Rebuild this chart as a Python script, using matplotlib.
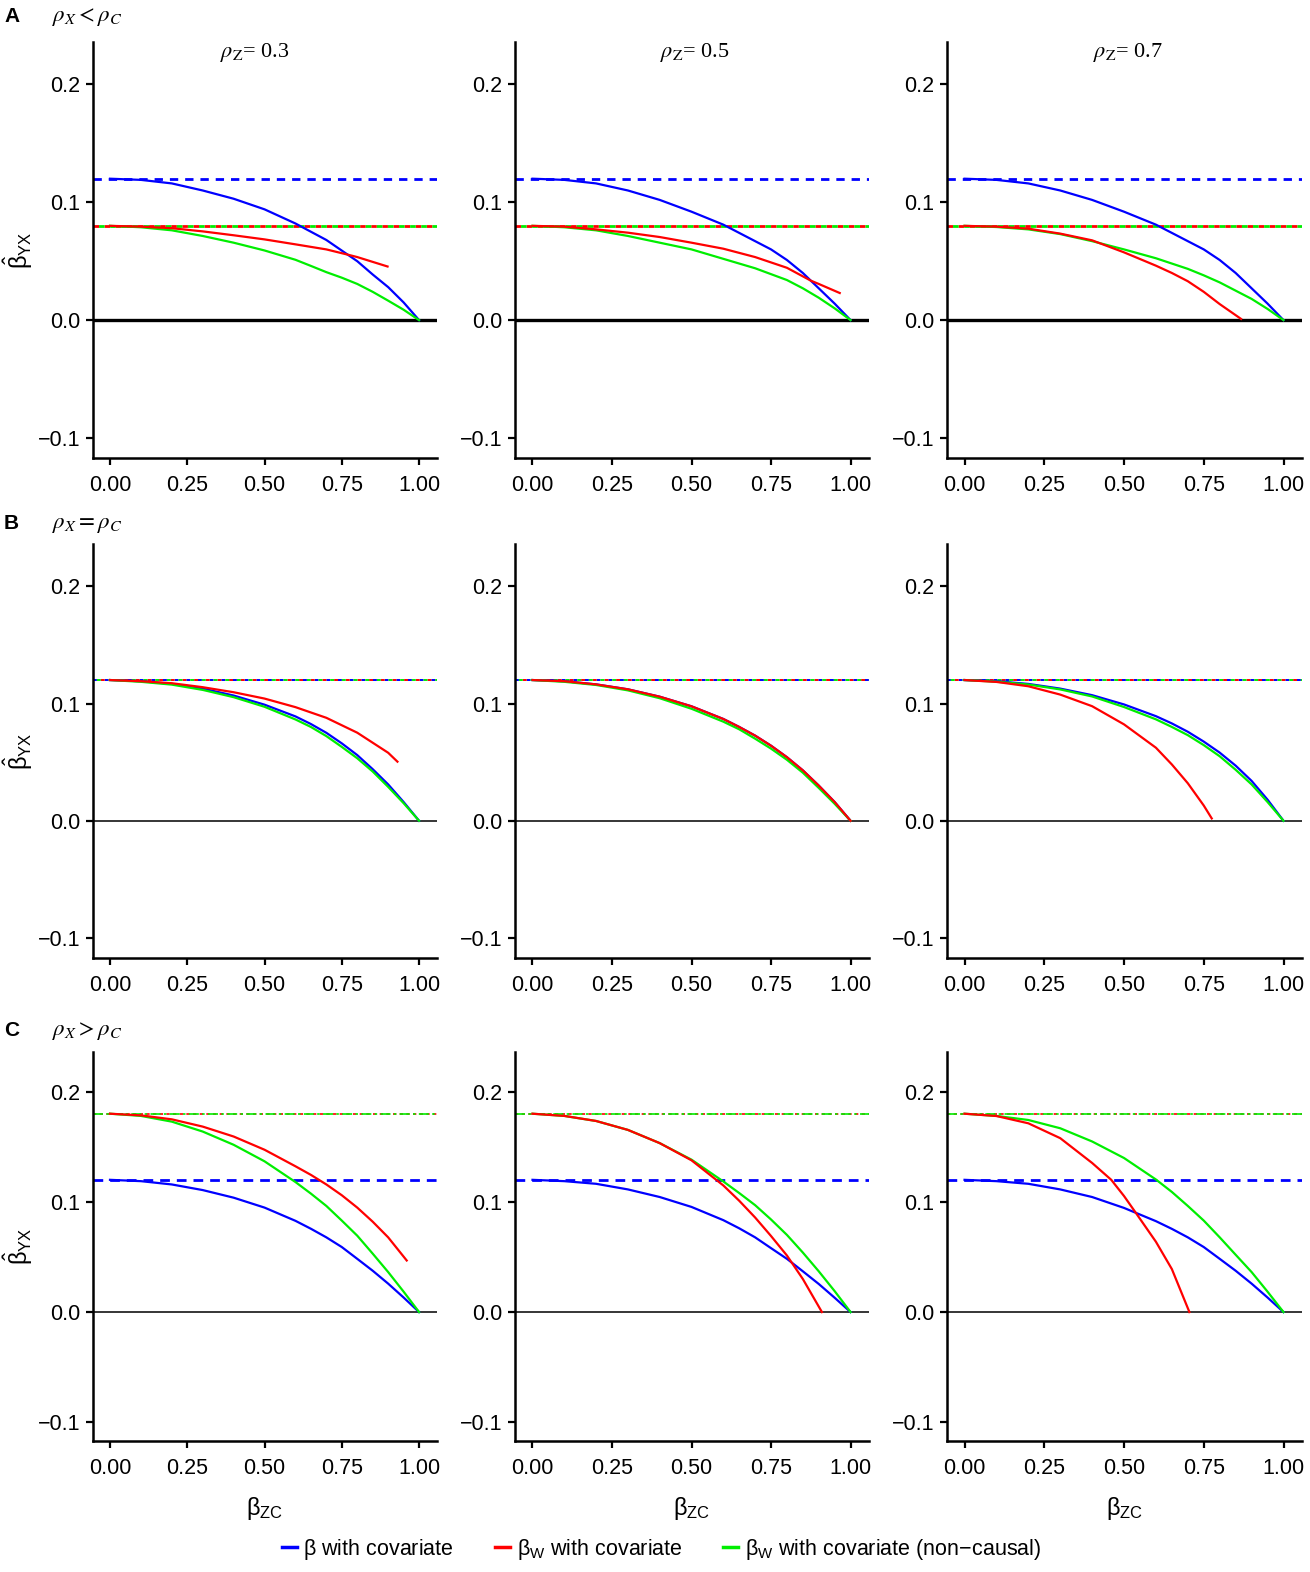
import matplotlib
matplotlib.use("Agg")
from matplotlib import pyplot as plt
from matplotlib.lines import Line2D

plt.rcParams['font.family'] = ['Liberation Sans', 'DejaVu Sans']
plt.rcParams['mathtext.fontset'] = 'custom'
plt.rcParams['mathtext.rm'] = 'Liberation Sans'
plt.rcParams['mathtext.it'] = 'Liberation Sans:italic'
plt.rcParams['mathtext.bf'] = 'Liberation Sans:bold'

# x grid (beta_ZC) shared by the blue and green curves
bzc = [0.0, 0.1, 0.2, 0.3, 0.4, 0.5, 0.6, 0.65, 0.7, 0.75, 0.8, 0.85, 0.9, 0.95, 1.0]

row_letters = ['A', 'B', 'C']
row_conds = [r'$\rho_X < \rho_C$', r'$\rho_X = \rho_C$', r'$\rho_X > \rho_C$']
col_titles = [r'$\rho_{\mathrm{Z}}$= 0.3', r'$\rho_{\mathrm{Z}}$= 0.5', r'$\rho_{\mathrm{Z}}$= 0.7']

# horizontal reference lines (without covariate), per row
ref_blue = [0.12, 0.12, 0.12]
ref_red = [0.08, 0.12, 0.18]
ref_green = [0.08, 0.12, 0.18]

# beta with covariate (blue), [row][col]
blue = [
    [[0.12, 0.119, 0.116, 0.110, 0.103, 0.094, 0.082, 0.075, 0.068, 0.059, 0.050, 0.0387, 0.028, 0.015, 0.0],
     [0.12, 0.119, 0.116, 0.110, 0.102, 0.092, 0.081, 0.074, 0.067, 0.060, 0.051, 0.040, 0.027, 0.014, 0.0],
     [0.12, 0.119, 0.116, 0.110, 0.102, 0.092, 0.081, 0.074, 0.067, 0.060, 0.051, 0.040, 0.027, 0.014, 0.0]],
    [[0.12, 0.119, 0.1167, 0.1127, 0.1068, 0.099, 0.089, 0.0825, 0.075, 0.066, 0.056, 0.044, 0.031, 0.016, 0.0],
     [0.12, 0.119, 0.1163, 0.1121, 0.1058, 0.0976, 0.0868, 0.080, 0.0726, 0.064, 0.0542, 0.043, 0.030, 0.016, 0.0],
     [0.12, 0.119, 0.1167, 0.1127, 0.1071, 0.0992, 0.0892, 0.083, 0.0759, 0.0675, 0.0581, 0.047, 0.034, 0.018, 0.0]],
    [[0.12, 0.1188, 0.1158, 0.1107, 0.1038, 0.0948, 0.0828, 0.0756, 0.0678, 0.059, 0.0483, 0.0375, 0.0258, 0.0132, 0.0],
     [0.12, 0.1188, 0.1164, 0.1113, 0.1044, 0.0954, 0.0834, 0.076, 0.0678, 0.058, 0.0483, 0.037, 0.0255, 0.013, 0.0],
     [0.12, 0.1188, 0.1164, 0.1113, 0.1044, 0.0945, 0.0825, 0.0755, 0.0678, 0.059, 0.0483, 0.0375, 0.0258, 0.0132, 0.0]],
]

# beta_W with covariate, non-causal (green), [row][col]
green = [
    [[0.08, 0.0788, 0.0762, 0.0714, 0.0657, 0.0591, 0.0512, 0.046, 0.0407, 0.036, 0.0307, 0.024, 0.0165, 0.0088, 0.0],
     [0.08, 0.0788, 0.0762, 0.0714, 0.0657, 0.060, 0.052, 0.048, 0.044, 0.039, 0.034, 0.027, 0.019, 0.010, 0.0],
     [0.08, 0.079, 0.077, 0.073, 0.067, 0.060, 0.0525, 0.048, 0.0435, 0.038, 0.032, 0.025, 0.018, 0.0095, 0.0]],
    [[0.12, 0.1185, 0.1161, 0.1116, 0.1054, 0.0972, 0.0864, 0.080, 0.0722, 0.063, 0.0533, 0.042, 0.0289, 0.015, 0.0],
     [0.12, 0.1185, 0.1158, 0.1112, 0.1045, 0.0955, 0.0845, 0.078, 0.070, 0.0615, 0.052, 0.041, 0.028, 0.0145, 0.0],
     [0.12, 0.1186, 0.1162, 0.112, 0.106, 0.097, 0.0865, 0.080, 0.073, 0.0645, 0.055, 0.0435, 0.031, 0.016, 0.0]],
    [[0.18, 0.178, 0.1728, 0.1638, 0.1518, 0.1368, 0.118, 0.1075, 0.0963, 0.083, 0.0693, 0.053, 0.0363, 0.0185, 0.0],
     [0.18, 0.178, 0.1734, 0.1653, 0.1533, 0.1383, 0.1185, 0.108, 0.097, 0.084, 0.070, 0.054, 0.037, 0.019, 0.0],
     [0.18, 0.178, 0.1743, 0.1668, 0.1548, 0.1398, 0.1203, 0.109, 0.0963, 0.083, 0.0678, 0.052, 0.0363, 0.0185, 0.0]],
]

# beta_W with covariate (red): own x values since the curves stop early
red_x = [
    [[0.0, 0.1, 0.2, 0.3, 0.4, 0.5, 0.6, 0.7, 0.77, 0.8, 0.898],
     [0.0, 0.1, 0.2, 0.3, 0.4, 0.5, 0.6, 0.7, 0.8, 0.875, 0.9, 0.966],
     [0.0, 0.1, 0.2, 0.3, 0.4, 0.5, 0.6, 0.65, 0.7, 0.75, 0.8, 0.867]],
    [[0.0, 0.1, 0.2, 0.3, 0.4, 0.5, 0.6, 0.7, 0.8, 0.9, 0.93],
     [0.0, 0.1, 0.2, 0.3, 0.4, 0.5, 0.6, 0.65, 0.7, 0.75, 0.8, 0.85, 0.9, 0.95, 1.0],
     [0.0, 0.1, 0.2, 0.3, 0.4, 0.5, 0.6, 0.65, 0.7, 0.75, 0.775]],
    [[0.0, 0.1, 0.2, 0.3, 0.4, 0.5, 0.6, 0.65, 0.7, 0.75, 0.8, 0.85, 0.9, 0.96],
     [0.0, 0.1, 0.2, 0.3, 0.4, 0.5, 0.6, 0.65, 0.7, 0.75, 0.8, 0.85, 0.91],
     [0.0, 0.1, 0.2, 0.3, 0.4, 0.46, 0.5, 0.54, 0.6, 0.65, 0.705]],
]
red_y = [
    [[0.08, 0.0793, 0.078, 0.0753, 0.072, 0.0685, 0.0643, 0.060, 0.0555, 0.0535, 0.0455],
     [0.08, 0.0793, 0.077, 0.0742, 0.0705, 0.0657, 0.0606, 0.0535, 0.0444, 0.0335, 0.0307, 0.023],
     [0.08, 0.0793, 0.0776, 0.0734, 0.0677, 0.0575, 0.0462, 0.040, 0.0330, 0.024, 0.0136, 0.001]],
    [[0.12, 0.119, 0.1173, 0.1139, 0.1096, 0.1042, 0.0969, 0.0878, 0.0751, 0.058, 0.0504],
     [0.12, 0.119, 0.1163, 0.1121, 0.1058, 0.0976, 0.0868, 0.080, 0.0726, 0.064, 0.0542, 0.043, 0.030, 0.016, 0.0],
     [0.12, 0.1184, 0.1147, 0.1076, 0.0977, 0.0822, 0.0623, 0.048, 0.032, 0.013, 0.002]],
    [[0.18, 0.1785, 0.1749, 0.1683, 0.1593, 0.1473, 0.1323, 0.1245, 0.1158, 0.106, 0.0948, 0.082, 0.0678, 0.0468],
     [0.18, 0.178, 0.1734, 0.1653, 0.1533, 0.1377, 0.1149, 0.101, 0.0858, 0.069, 0.0513, 0.030, 0.0],
     [0.18, 0.1779, 0.1713, 0.1578, 0.1353, 0.12, 0.1053, 0.0888, 0.0638, 0.039, 0.0]],
]

yticks = [-0.1, 0.0, 0.1, 0.2]
xticks = [0.0, 0.25, 0.5, 0.75, 1.0]
BLUE, RED, GREEN = '#0000ff', '#ff0000', '#00ee00'

W, H = 1310, 1572
fig = plt.figure(figsize=(W / 100, H / 100), dpi=100)

rows_px = [(42, 458), (544, 958), (1052, 1441)]
cols_px = [(93, 437), (515, 869), (947, 1302)]


def px_rect(l, r, t, b):
    return [l / W, 1 - b / H, (r - l) / W, (b - t) / H]


# reference line styles per row: (linewidth, blue, red, green)
ref_styles = [
    (2.0, (0, (3, 2.5)), (0, (2, 2)), (2, (2, 2))),
    (1.4, (0, (2, 4)), (2, (2, 4)), (4, (2, 4))),
    (1.2, (0, (3.5, 2.5)), (0, (2, 2)), (0, (6, 2, 1.5, 2))),
]

for i in range(3):
    t, b = rows_px[i]
    lw_ref, ls_b, ls_r, ls_g = ref_styles[i]
    for j in range(3):
        l, r = cols_px[j]
        ax = fig.add_axes(px_rect(l, r, t, b))
        ax.axhline(0, color='black', lw=2.4 if i == 0 else 1.1, zorder=1)
        ax.axhline(ref_blue[i], color=BLUE, lw=2.0 if i != 1 else lw_ref,
                   linestyle=ls_b, zorder=2)
        ax.axhline(ref_red[i], color=RED, lw=lw_ref, linestyle=ls_r, zorder=2)
        ax.axhline(ref_green[i], color=GREEN, lw=lw_ref, linestyle=ls_g, zorder=2)
        ax.plot(bzc, blue[i][j], color=BLUE, lw=1.6, zorder=3)
        ax.plot(red_x[i][j], red_y[i][j], color=RED, lw=1.6, zorder=4)
        ax.plot(bzc, green[i][j], color=GREEN, lw=1.6, zorder=3)

        ax.set_xlim(-0.055, 1.058)
        ax.set_ylim(-0.117, 0.236)
        ax.set_xticks(xticks)
        ax.set_xticklabels(['0.00', '0.25', '0.50', '0.75', '1.00'])
        ax.set_yticks(yticks)
        ax.set_yticklabels(['\u22120.1', '0.0', '0.1', '0.2'])
        ax.tick_params(axis='y', labelsize=15.5, width=1.6, length=5, pad=4)
        ax.tick_params(axis='x', labelsize=15.5, width=1.6, length=5, pad=7)
        for side in ['top', 'right']:
            ax.spines[side].set_visible(False)
        for side in ['left', 'bottom']:
            ax.spines[side].set_linewidth(1.8)

        if j == 0:
            ax.set_ylabel(r'$\hat{\mathrm{β}}_{\mathrm{YX}}$', fontsize=17)
            ax.yaxis.set_label_coords((35 - l) / (r - l), 0.5)
        if i == 2:
            ax.set_xlabel(r'$\mathrm{β}_{\mathrm{ZC}}$', fontsize=17, labelpad=12)
        if i == 0:
            cx = [255, 695, 1128][j]
            fig.text(cx / W, 1 - 52 / H, col_titles[j], fontsize=16,
                     ha='center', va='center', family='Liberation Serif',
                     math_fontfamily='stix')

    ytxt = [16, 524, 1031][i]
    fig.text(4 / W, 1 - ytxt / H, row_letters[i], fontsize=15, fontweight='bold',
             ha='left', va='center')
    fig.text(52 / W, 1 - ytxt / H, row_conds[i], fontsize=16.5,
             ha='left', va='center', math_fontfamily='stix')

handles = [Line2D([], [], color=BLUE, lw=2.5),
           Line2D([], [], color=RED, lw=2.5),
           Line2D([], [], color=GREEN, lw=2.5)]
labels = [r'$\mathrm{β}$ with covariate', r'$\mathrm{β}_{\mathrm{W}}$ with covariate',
          r'$\mathrm{β}_{\mathrm{W}}$ with covariate (non' + '\u2212' + 'causal)']
fig.legend(handles, labels, loc='center', bbox_to_anchor=(0.505, 1 - 1549 / H),
           ncol=3, frameon=False, fontsize=15.5, handlelength=0.7,
           handletextpad=0.3, columnspacing=1.9)

fig.savefig('out.png', dpi=100)
